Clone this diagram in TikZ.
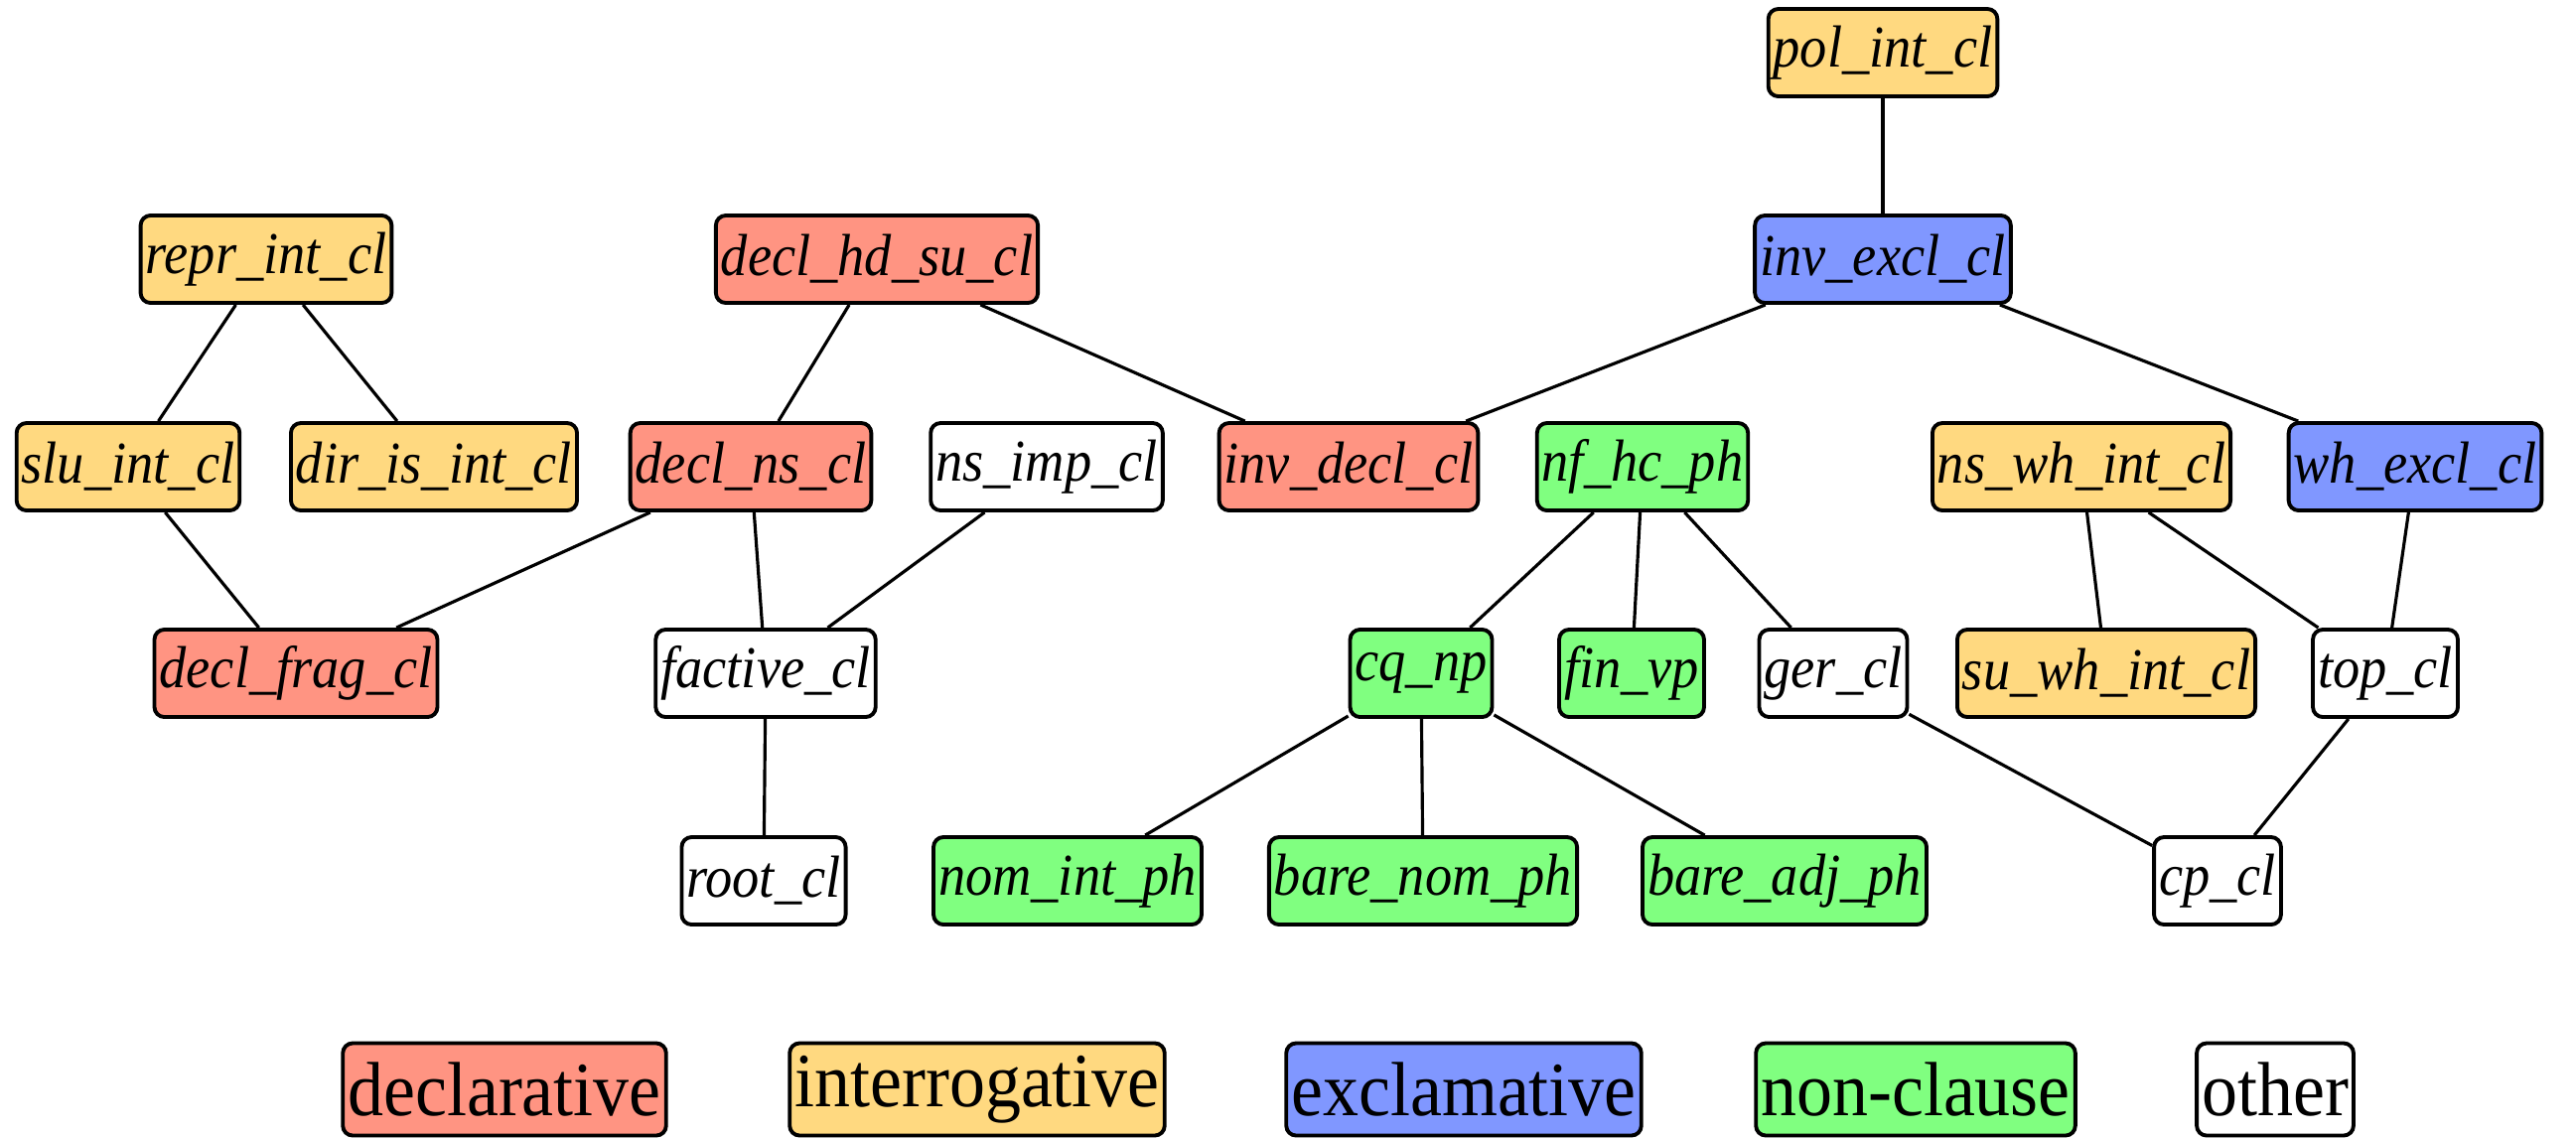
\documentclass[tikz,border=0pt]{standalone}
\usepackage{fontspec}
\setmainfont{Liberation Serif}
\newfontfamily\condfont[FakeStretch=0.91]{Liberation Serif}
\newfontfamily\legfont[FakeStretch=0.93]{Liberation Serif}
\definecolor{cdecl}{HTML}{FF9482}
\definecolor{cint}{HTML}{FFD980}
\definecolor{cexcl}{HTML}{8097FF}
\definecolor{cnon}{HTML}{80FF80}
\tikzset{
  tnode/.style={draw, line width=1.1pt, rounded corners=0.1cm, minimum height=0.88cm,
    inner xsep=0.05cm, inner ysep=0pt, font=\condfont\fontsize{17}{19}\selectfont\itshape},
  lnode/.style={draw, line width=1.1pt, rounded corners=0.1cm, minimum height=0.93cm,
    inner xsep=0.05cm, inner ysep=0pt, font=\legfont\fontsize{22}{25}\selectfont},
  dcl/.style={fill=cdecl}, itg/.style={fill=cint}, exc/.style={fill=cexcl},
  nonc/.style={fill=cnon}, oth/.style={fill=white},
  edge/.style={line width=0.9pt}
}
\begin{document}
\begin{tikzpicture}[x=0.01cm,y=-0.01cm]
\useasboundingbox (0,0) rectangle (2594,1147);
% row 1
\node[tnode,itg] (pol) at (1896,53) {pol\_int\_cl};
% row 2
\node[tnode,itg] (repr) at (268,261) {repr\_int\_cl};
\node[tnode,dcl] (dhs) at (883,261) {decl\_hd\_su\_cl};
\node[tnode,exc] (iex) at (1896,261) {inv\_excl\_cl};
% row 3
\node[tnode,itg] (slu) at (129,470) {slu\_int\_cl};
\node[tnode,itg] (dir) at (437,470) {dir\_is\_int\_cl};
\node[tnode,dcl] (dns) at (756,470) {decl\_ns\_cl};
\node[tnode,oth] (nsi) at (1054,470) {ns\_imp\_cl};
\node[tnode,dcl] (idc) at (1358,470) {inv\_decl\_cl};
\node[tnode,nonc] (nfh) at (1654,470) {nf\_hc\_ph};
\node[tnode,itg] (nsw) at (2096,470) {ns\_wh\_int\_cl};
\node[tnode,exc] (whe) at (2432,470) {wh\_excl\_cl};
% row 4
\node[tnode,dcl] (dfr) at (298,678) {decl\_frag\_cl};
\node[tnode,oth] (fac) at (771,678) {factive\_cl};
\node[tnode,nonc] (cqn) at (1431,678) {cq\_np};
\node[tnode,nonc] (fvp) at (1643,678) {fin\_vp};
\node[tnode,oth] (ger) at (1846,678) {ger\_cl};
\node[tnode,itg] (suw) at (2121,678) {su\_wh\_int\_cl};
\node[tnode,oth] (top) at (2402,678) {top\_cl};
% row 5
\node[tnode,oth] (root) at (769,887) {root\_cl};
\node[tnode,nonc] (nip) at (1075,887) {nom\_int\_ph};
\node[tnode,nonc] (bnp) at (1433,887) {bare\_nom\_ph};
\node[tnode,nonc] (bap) at (1797,887) {bare\_adj\_ph};
\node[tnode,oth] (cpc) at (2233,887) {cp\_cl};
% legend
\node[lnode,dcl] (l1) at (508,1097) {declarative};
\node[lnode,itg] (l2) at (984,1097) {interrogative};
\node[lnode,exc] (l3) at (1474,1097) {exclamative};
\node[lnode,nonc] (l4) at (1929,1097) {non-clause};
\node[lnode,oth] (l5) at (2291,1097) {other};
% edges
\draw[edge] (pol) -- (iex);
\draw[edge] (repr) -- (slu);
\draw[edge] (repr) -- (dir);
\draw[edge] (dhs) -- (dns);
\draw[edge] (dhs) -- (idc);
\draw[edge] (iex) -- (idc);
\draw[edge] (iex) -- (whe);
\draw[edge] (slu) -- (dfr);
\draw[edge] (dns) -- (dfr);
\draw[edge] (dns) -- (fac);
\draw[edge] (nsi) -- (fac);
\draw[edge] (nfh) -- (cqn);
\draw[edge] (nfh) -- (fvp);
\draw[edge] (nfh) -- (ger);
\draw[edge] (nsw) -- (suw);
\draw[edge] (nsw) -- (top);
\draw[edge] (whe) -- (top);
\draw[edge] (fac) -- (root);
\draw[edge] (cqn) -- (nip);
\draw[edge] (cqn) -- (bnp);
\draw[edge] (cqn) -- (bap);
\draw[edge] (ger) -- (cpc);
\draw[edge] (top) -- (cpc);
\end{tikzpicture}
\end{document}
